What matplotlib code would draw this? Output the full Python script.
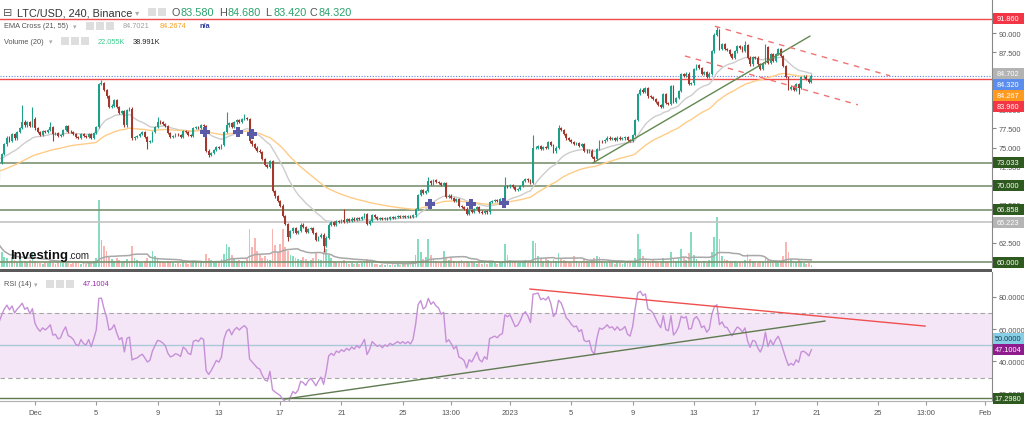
import numpy as np
import pandas as pd
import matplotlib
matplotlib.use("Agg")
import matplotlib.pyplot as plt
from matplotlib.patches import Rectangle

plt.rcParams['font.family'] = ['Liberation Sans', 'DejaVu Sans']

# ---- data (LTC/USD, 4h bars, Nov 28 16:00 -> Jan 20 16:00) ----
first_open = 71.0
closes = [
    73.0, 74.2, 75.4, 76.3, 75.9, 76.8, 76.2, 77.0, 77.6, 78.4,
    77.9, 78.3, 77.8, 78.8, 77.5, 77.0, 76.7, 77.2, 77.0, 77.3,
    77.7, 76.8, 76.9, 76.5, 76.6, 77.3, 77.8, 77.1, 77.0, 76.8,
    76.4, 76.3, 76.8, 76.5, 76.4, 76.8, 76.3, 76.9, 77.7, 83.3,
    83.4, 82.5, 81.7, 80.3, 80.5, 81.2, 80.3, 79.5, 79.8, 77.9,
    79.9, 80.1, 76.2, 76.4, 76.5, 76.8, 77.0, 76.4, 75.7, 75.9,
    77.0, 77.7, 78.4, 78.3, 78.1, 77.8, 76.9, 76.4, 76.5, 76.7,
    76.6, 76.4, 77.2, 77.0, 76.6, 76.5, 77.6, 77.7, 77.6, 77.9,
    77.8, 74.6, 74.0, 74.3, 74.7, 75.1, 74.9, 75.3, 77.0, 77.9,
    78.2, 77.7, 78.3, 78.6, 78.4, 78.7, 78.9, 78.7, 75.8, 75.4,
    75.0, 74.6, 74.4, 73.5, 72.7, 72.5, 73.2, 69.3, 68.6, 68.0,
    67.4, 66.0, 65.0, 63.3, 64.0, 64.5, 63.8, 64.1, 64.9, 64.6,
    63.9, 64.3, 64.5, 63.8, 62.9, 63.3, 63.6, 62.1, 63.2, 64.9,
    65.2, 64.9, 65.4, 65.2, 65.5, 65.3, 65.6, 65.4, 65.7, 65.5,
    65.8, 65.6, 65.9, 66.3, 65.0, 65.4, 66.1, 65.9, 65.7, 65.8,
    65.6, 65.8, 65.7, 65.9, 65.8, 65.9, 66.0, 65.9, 66.0, 65.9,
    66.0, 65.9, 66.1, 66.9, 68.8, 69.4, 69.0, 69.3, 70.6, 70.3,
    70.7, 70.5, 70.4, 70.1, 70.3, 68.5, 68.7, 68.4, 68.0, 68.2,
    67.3, 67.2, 67.0, 66.3, 66.8, 66.6, 66.9, 67.2, 66.6, 66.4,
    66.7, 66.5, 67.9, 68.0, 68.1, 68.0, 68.2, 68.3, 70.0, 69.9,
    70.1, 69.8, 69.5, 69.6, 70.0, 70.6, 70.9, 70.7, 70.4, 74.9,
    75.0, 75.2, 74.8, 75.1, 75.0, 75.7, 75.3, 74.5, 75.0, 77.5,
    77.3, 76.8, 76.2, 76.0, 75.7, 75.5, 75.6, 75.2, 75.4, 74.6,
    74.5, 74.6, 73.8, 73.5, 74.8, 75.9, 75.8, 76.0, 76.3, 76.1,
    76.2, 76.0, 76.3, 76.1, 76.2, 76.4, 76.0, 75.9, 76.6, 78.6,
    82.0, 82.6, 82.3, 82.8, 81.7, 81.6, 81.4, 81.0, 80.6, 80.3,
    82.0, 80.8, 80.7, 83.1, 81.0, 81.5, 82.4, 84.6, 84.4, 84.7,
    83.3, 83.4, 85.3, 85.8, 85.4, 84.6, 84.9, 84.2, 84.7, 87.6,
    89.8, 90.4, 87.9, 88.6, 87.9, 87.8, 87.2, 86.7, 87.6, 88.3,
    88.1, 87.7, 88.4, 86.8, 85.9, 86.9, 86.8, 85.9, 85.3, 86.1,
    88.2, 86.1, 87.2, 86.4, 87.3, 87.9, 87.0, 85.7, 84.2, 82.7,
    83.0, 82.6, 83.3, 82.8, 84.2, 84.3, 84.0, 83.58, 84.32,
]
# notable wick extremes (bar index -> price)
highs_seen = {9: 80.6, 13: 80.3, 20: 78.3, 40: 83.9, 62: 79.0, 89: 79.6, 96: 79.4,
              135: 66.9, 168: 71.1, 198: 71.2, 209: 76.6, 219: 78.0, 281: 90.8,
              292: 89.0, 300: 88.6, 318: 84.68}
lows_seen = {0: 70.9, 21: 75.8, 58: 74.8, 82: 73.8, 113: 62.8, 127: 61.3,
             233: 73.1, 313: 82.0, 318: 83.42}
wick = 0.15

volume_k = [
    220, 150, 100, 90, 60, 100, 70, 50, 80, 60,
    60, 50, 70, 140, 60, 50, 40, 30, 50, 40,
    60, 40, 30, 50, 40, 60, 50, 40, 30, 40,
    50, 40, 30, 40, 30, 40, 50, 60, 90, 670,
    270, 210, 160, 100, 80, 60, 90, 70, 50, 60,
    80, 60, 210, 90, 70, 50, 40, 60, 90, 60,
    160, 110, 80, 60, 50, 40, 60, 50, 40, 30,
    40, 30, 50, 40, 30, 40, 60, 50, 40, 50,
    60, 130, 90, 70, 60, 50, 60, 80, 130, 230,
    200, 120, 80, 60, 70, 60, 50, 80, 380, 200,
    290, 160, 120, 90, 110, 80, 70, 380, 220, 150,
    230, 380, 200, 160, 120, 110, 90, 80, 70, 100,
    80, 60, 70, 90, 150, 80, 70, 160, 180, 120,
    90, 60, 50, 40, 50, 70, 40, 30, 40, 30,
    40, 30, 40, 60, 80, 50, 40, 30, 30, 20,
    30, 20, 30, 20, 30, 20, 30, 20, 30, 40,
    30, 50, 60, 120, 280, 150, 80, 100, 280, 120,
    80, 60, 50, 40, 160, 90, 70, 90, 60, 50,
    60, 70, 50, 60, 40, 50, 40, 30, 40, 30,
    40, 30, 60, 50, 40, 30, 40, 50, 230, 120,
    70, 60, 50, 40, 50, 60, 70, 40, 50, 260,
    240, 110, 80, 60, 90, 70, 50, 80, 60, 140,
    90, 70, 60, 50, 40, 110, 60, 40, 50, 80,
    60, 40, 70, 90, 110, 100, 60, 50, 40, 50,
    40, 30, 50, 40, 30, 40, 50, 60, 40, 90,
    330, 180, 110, 80, 60, 50, 70, 60, 40, 50,
    90, 60, 50, 150, 80, 60, 90, 180, 100, 70,
    140, 350, 120, 80, 60, 50, 60, 40, 70, 150,
    300, 500, 280, 110, 80, 70, 60, 50, 60, 40,
    50, 40, 70, 130, 80, 60, 50, 40, 60, 50,
    90, 70, 60, 40, 50, 40, 60, 110, 250, 150,
    80, 60, 50, 70, 60, 40, 30, 40, 22,
]

# EMA cross markers (bar, price)
cross_bars = [80.6, 93.5, 99.0, 168.7, 184.7, 197.6]
cross_vals = [77.0, 77.0, 76.8, 67.6, 67.6, 67.7]

# drawn levels
red_levels = [91.86, 83.96]
green_levels = [73.033, 70.0, 66.858, 60.0]
gray_level = 65.223
last_price = 84.32

# trend lines ((bar, value), (bar, value))
main_green = [(232.5, 73.0), (317.4, 89.6)]
main_red_up = [(280.2, 90.9), (348.8, 84.4)]
main_red_lo = [(268.5, 87.0), (336.2, 80.6)]
rsi_red = [(207.8, 84.6), (362.5, 61.8)]
rsi_green = [(111.9, 16.9), (323.3, 64.9)]
rsi_level = 17.298
rsi_last = 47.1004

tick_bars = [14, 38, 62, 86, 110, 134, 158, 177, 200, 224, 248, 272, 296, 320, 344, 363, 386]
tick_labels = ['Dec', '5', '9', '13', '17', '21', '25', '13:00', '2023',
               '5', '9', '13', '17', '21', '25', '13:00', 'Feb']
# price ticks whose labels sit fully under a value tag
covered_ticks = [60.0, 65.0, 70.0, 82.5, 85.0]

# ---- derived series ----
n = len(closes)
idx = np.arange(n)
c = np.array(closes)
o = np.array([first_open] + closes[:-1])
hi = np.maximum(o, c) + wick
lo = np.minimum(o, c) - wick
for k, v in highs_seen.items():
    hi[k] = v
for k, v in lows_seen.items():
    lo[k] = v
up = c >= o


def ema(vals, span, seed):
    a = 2.0 / (span + 1)
    e = seed
    out = []
    for v in vals:
        e = e + a * (v - e)
        out.append(e)
    return np.array(out)


ema21 = ema(c, 21, 73.6)
ema55 = ema(c, 55, 71.9)

ag, al, prev = 0.32, 0.26, first_open
rsi = []
for v in c:
    d = v - prev
    prev = v
    ag = (ag * 13 + max(d, 0)) / 14
    al = (al * 13 + max(-d, 0)) / 14
    rsi.append(100 - 100 / (1 + ag / al))
rsi = np.array(rsi)

vol = np.array(volume_k, dtype=float)
vol_ma = pd.Series(vol).rolling(20, min_periods=1).mean().values

# ---- figure layout in pixels ----
W, H = 1024, 427
fig = plt.figure(figsize=(W / 100, H / 100), dpi=100)
fig.patch.set_facecolor('white')


def rect(x0, y0, x1, y1):
    return [x0 / W, 1 - y1 / H, (x1 - x0) / W, (y1 - y0) / H]


PXB, X0 = 2.554, -0.76
xl = ((0 - X0) / PXB, (992 - X0) / PXB)

axv = fig.add_axes(rect(0, 0, 992, 268))
ax = fig.add_axes(rect(0, 0, 992, 268), sharex=axv)
ax.patch.set_alpha(0)
axr = fig.add_axes(rect(0, 273, 992, 402), sharex=axv)

# volume
vcol = np.where(up, '#86dcbc', '#f8b5b1')
axv.bar(idx, vol, width=0.7, color=vcol, linewidth=0)
axv.plot(idx, vol_ma, color='#a8a8a8', lw=1.1)
axv.set_ylim(0, 2680)
axv.axis('off')

# levels
for v in red_levels:
    ax.axhline(v, color='#ef4b4b', lw=1.0, zorder=1)
for v in green_levels:
    ax.axhline(v, color='#7b9270', lw=1.2, zorder=1)
ax.axhline(gray_level, color='#c4c4c4', lw=1.2, zorder=1)
ax.axhline(last_price, color='#5d7fe0', lw=0.8, ls=(0, (1, 1.5)), zorder=1)

# emas
ax.plot(idx, ema21, color='#cdcdcd', lw=1.0, zorder=2)
ax.plot(idx, ema55, color='#ffcc88', lw=1.0, zorder=2)

# candles
ccol = np.where(up, '#1f9f88', '#a5382e')
ax.vlines(idx, lo, hi, colors=ccol, lw=0.8, zorder=3)
body = np.maximum(np.abs(c - o), 0.06)
ax.bar(idx, body, bottom=np.minimum(o, c), width=0.72, color=ccol, linewidth=0, zorder=4)

ax.plot(cross_bars, cross_vals, 'P', color='#5a5aa8', ms=6.5, mew=0, zorder=5)

for seg, col, ls in [(main_green, '#61894f', '-'), (main_red_up, '#f07272', (0, (4, 4))),
                     (main_red_lo, '#f07272', (0, (4, 4)))]:
    ax.plot([seg[0][0], seg[1][0]], [seg[0][1], seg[1][1]], color=col, lw=1.0, ls=ls, zorder=5)

ax.set_xlim(*xl)
ax.set_ylim(59.345, 94.469)
ax.yaxis.tick_right()
ax.set_yticks(np.arange(60, 95, 2.5))
ax.yaxis.set_major_formatter(plt.FuncFormatter(
    lambda v, p: '' if any(abs(v - t) < 1e-6 for t in covered_ticks) else '%.3f' % v))
ax.tick_params(axis='y', length=3, color='#888', labelsize=5.3, labelcolor='#555', pad=2)
ax.tick_params(axis='x', bottom=False, labelbottom=False)
for s in ['left', 'top', 'bottom']:
    ax.spines[s].set_visible(False)
ax.spines['right'].set_color('#888')

# RSI panel
axr.axhspan(30, 70, color='#f4e6f6', lw=0)
axr.axhline(70, color='#a5a5a5', lw=0.8, ls=(0, (4, 3)))
axr.axhline(30, color='#a5a5a5', lw=0.8, ls=(0, (4, 3)))
axr.axhline(50, color='#aac8da', lw=1.0)
axr.axhline(rsi_level, color='#5f7a50', lw=1.0)
axr.plot(idx, rsi, color='#c690d8', lw=1.0)
for seg, col in [(rsi_red, '#f04f4f'), (rsi_green, '#5f7a50')]:
    axr.plot([seg[0][0], seg[1][0]], [seg[0][1], seg[1][1]], color=col, lw=1.0)
axr.set_ylim(15.69, 95.08)
axr.yaxis.tick_right()
axr.set_yticks([20, 40, 60, 80])
axr.yaxis.set_major_formatter(plt.FormatStrFormatter('%.4f'))
axr.tick_params(axis='y', length=3, color='#888', labelsize=5.3, labelcolor='#555', pad=2)
axr.set_xticks(tick_bars)
axr.set_xticklabels(tick_labels)
axr.tick_params(axis='x', length=3, color='#999', labelsize=5.5, labelcolor='#555', pad=3)
for s in ['left', 'top']:
    axr.spines[s].set_visible(False)
axr.spines['right'].set_color('#888')
axr.spines['bottom'].set_color('#b0b0b0')
axr.set_xlim(*xl)

# separator between panels
fig.patches.append(Rectangle((0, 1 - 273 / H), 992 / W, 3 / H, transform=fig.transFigure,
                             color='#5a5a5a', lw=0))


def T(x, y, s, size=5.3, color='#555', **kw):
    fig.text(x / W, 1 - y / H, s, fontsize=size, color=color, va=kw.pop('va', 'center'), **kw)


def icons(x, y, count):
    for i in range(count):
        fig.patches.append(Rectangle(((x + i * 10) / W, 1 - (y + 8) / H), 8 / W, 8 / H,
                                     transform=fig.transFigure, color='#dedede', lw=0))


# header rows
T(3, 13, '⊟', 8, '#555', family=['DejaVu Sans'])
T(17, 13, 'LTC/USD, 240, Binance', 7.8, '#333')
T(135, 13, '▾', 6, '#aaa', family=['DejaVu Sans'])
icons(148, 9, 2)
grn = '#27a36a'
for x, lab, val in [(172, 'O', '83.580'), (219, 'H', '84.680'), (265, 'L', '83.420'), (310, 'C', '84.320')]:
    T(x, 13, lab, 7.8, '#555')
    T(x + 8.5, 13, val, 7.8, grn)

T(4, 27, 'EMA Cross (21, 55)', 5.3, '#555')
T(73, 27, '▾', 5, '#aaa', family=['DejaVu Sans'])
icons(86, 23, 3)
T(123, 27, '84.7021', 5.3, '#a0a0a0')
T(160, 27, '84.2674', 5.3, '#f5a020')
T(199, 27, 'n/a', 5.3, '#2b3a9c', weight='bold')

T(4, 42, 'Volume (20)', 5.3, '#555')
T(49, 42, '▾', 5, '#aaa', family=['DejaVu Sans'])
icons(61, 38, 3)
T(98, 42, '22.055K', 5.3, '#3ccb8e')
T(133, 42, '38.991K', 5.3, '#222')

T(4, 285, 'RSI (14)', 5.3, '#555')
T(34, 285, '▾', 5, '#aaa', family=['DejaVu Sans'])
icons(46, 281, 3)
T(83, 285, '47.1004', 5.3, '#9c27b0')

# Investing.com watermark
T(10, 259, 'Investing', 9.5, '#111', weight='bold', va='baseline')
T(68, 259, '.com', 7, '#222', va='baseline')


# right-hand value tags
def tag(y_disp, text, fc, tc='white'):
    h = 11
    fig.patches.append(Rectangle((993 / W, (y_disp - h / 2) / H), 31 / W, h / H,
                                 transform=fig.transFigure, color=fc, lw=0, zorder=10))
    fig.text(1008 / W, y_disp / H, text, fontsize=5.3, color=tc, ha='center', va='center', zorder=11)


def ydisp(a, v):
    return a.transData.transform((0, v))[1]


tag(ydisp(ax, 91.86), '91.860', '#f23645')
prev_y = None
for v, txt, fc in [(84.702, '84.702', '#b3b3b3'), (84.320, '84.320', '#5b8def'),
                   (84.267, '84.267', '#ff9a1f'), (83.960, '83.960', '#f23645')]:
    yd = ydisp(ax, v)
    if prev_y is not None:
        yd = min(yd, prev_y - 11)
    tag(yd, txt, fc)
    prev_y = yd
for v, txt in [(73.033, '73.033'), (70.0, '70.000'), (66.858, '66.858'), (60.0, '60.000')]:
    tag(ydisp(ax, v), txt, '#2f5a1f')
tag(ydisp(ax, gray_level), '65.223', '#b5b5b5')
y_last = ydisp(axr, rsi_last)
tag(max(ydisp(axr, 50), y_last + 11), '50.0000', '#86cde6', '#1e3c4c')
tag(y_last, '47.1004', '#8e1c8e')
tag(ydisp(axr, rsi_level), '17.2980', '#2f5a1f')

fig.savefig('out.png', dpi=100)
